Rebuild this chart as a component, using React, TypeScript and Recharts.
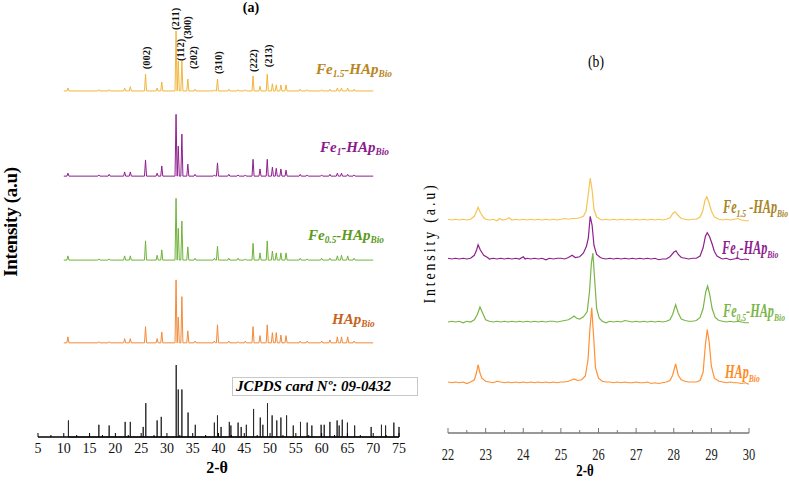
import React from "react";
import { ComposedChart, LineChart, Line, XAxis, YAxis } from "recharts";

// ---------- (a) full 2θ range, 5–75° ----------
const peakTheta = [
  10.8, 16.8, 18.8, 21.8, 22.9, 25.85, 28.1, 29.0, 31.77, 32.2, 32.9, 34.05, 35.45, 39.2, 39.8, 42.0, 43.8,
  45.2, 46.7, 48.05, 49.45, 50.45, 51.2, 52.1, 53.1, 55.85, 57.2, 60.0, 61.6, 63.05, 63.85, 65.05, 66.3,
];
// relative peak heights (211 ≈ 100) per sample, same order as peakTheta
const hapPeaks = [10, 2, 2, 7, 7, 27, 7, 18, 105, 43, 77, 20, 3, 3, 30, 3, 2, 3, 27, 12, 30, 17, 17, 13, 12, 3, 3, 3, 5, 10, 10, 10, 3];
const fe05Peaks = [7, 2, 2, 7, 7, 32, 8, 17, 103, 53, 65, 22, 3, 3, 23, 3, 3, 2, 28, 12, 32, 15, 12, 12, 12, 3, 2, 3, 3, 7, 8, 7, 3];
const fe1Peaks = [5, 2, 3, 7, 7, 27, 5, 17, 103, 50, 70, 20, 3, 2, 22, 3, 2, 2, 28, 12, 28, 15, 13, 12, 10, 3, 2, 2, 3, 5, 5, 3, 2];
const fe15Peaks = [5, 2, 2, 5, 7, 28, 5, 15, 100, 50, 50, 20, 3, 2, 20, 3, 2, 2, 25, 8, 28, 12, 10, 10, 10, 3, 2, 2, 3, 5, 5, 5, 3];

// JCPDS 09-0432 reference lines
const jcpdsTheta = [
  10.9, 16.8, 18.8, 21.9, 22.9, 25.4, 25.9, 28.1, 28.9, 31.8, 32.2, 32.9, 34.1, 35.5, 39.2, 39.8, 40.5, 42.1,
  42.4, 43.8, 44.4, 45.4, 46.8, 48.1, 48.6, 49.5, 50.4, 51.3, 52.1, 53.2, 54.5, 55.9, 57.2, 58.1, 59.9, 60.5,
  61.6, 63.0, 63.4, 64.0, 65.0, 66.4, 69.6, 71.6, 72.4, 74.0, 75.0,
];
const jcpdsIntensity = [
  23, 17, 16, 21, 21, 14, 47, 23, 28, 100, 66, 66, 34, 17, 20, 30, 14, 21, 16, 20, 14, 17, 39, 27, 17, 47, 30,
  23, 27, 30, 16, 21, 20, 16, 17, 17, 21, 23, 16, 24, 20, 16, 14, 17, 16, 20, 14,
];

const hklTags = ["(002)", "(211)", "(112)", "(300)", "(202)", "(310)", "(222)", "(213)"];
const hklTheta = [25.85, 31.77, 32.2, 32.9, 34.05, 39.8, 46.7, 49.45];

const ticksA = [
  5, 7.5, 10, 12.5, 15, 17.5, 20, 22.5, 25, 27.5, 30, 32.5, 35, 37.5, 40, 42.5, 45, 47.5, 50, 52.5, 55, 57.5,
  60, 62.5, 65, 67.5, 70, 72.5, 75,
];

// ---------- (b) close-up, 22–30° ----------
const hapZoom: [number, number][] = [
  [22, 1], [22.1, 0], [22.2, 1], [22.3, 0], [22.4, 1], [22.5, -1], [22.6, 1], [22.7, 4], [22.75, 12], [22.8, 24],
  [22.85, 13], [22.9, 6], [23.0, 2], [23.1, 1], [23.2, 0], [23.3, 2], [23.4, 1], [23.5, 0], [23.6, 1], [23.7, 0],
  [23.8, 1], [23.9, 0], [24.0, 1], [24.1, 0], [24.2, 1], [24.3, 0], [24.4, 1], [24.5, 0], [24.6, 1], [24.7, 0],
  [24.8, 1], [24.9, 0], [25.0, 1], [25.1, 1], [25.2, 2], [25.3, 4], [25.35, 5], [25.45, 3], [25.55, 4], [25.65, 9],
  [25.72, 30], [25.77, 70], [25.82, 100], [25.87, 62], [25.92, 20], [26.0, 6], [26.1, 2], [26.2, 1], [26.3, 1],
  [26.4, 0], [26.5, 1], [26.6, 0], [26.7, 1], [26.8, 0], [26.9, 0], [27.0, 1], [27.1, 0], [27.2, 0], [27.3, 1],
  [27.4, -1], [27.5, 0], [27.6, -1], [27.7, 0], [27.8, 1], [27.9, 3], [27.97, 10], [28.05, 25], [28.12, 10],
  [28.2, 4], [28.3, 2], [28.4, 1], [28.5, 1], [28.6, 1], [28.7, 3], [28.78, 14], [28.84, 50], [28.89, 71],
  [28.94, 55], [29.0, 22], [29.08, 6], [29.2, 2], [29.3, 1], [29.4, 0], [29.5, 1], [29.6, 0], [29.7, 0],
  [29.8, -1], [29.9, 0], [30.0, -2],
];
const fe05Zoom: [number, number][] = [
  [22, 0], [22.1, 1], [22.2, 0], [22.3, 1], [22.4, -1], [22.5, 1], [22.6, 0], [22.7, 3], [22.78, 10], [22.85, 20],
  [22.92, 12], [23.0, 3], [23.1, 1], [23.2, 0], [23.3, 1], [23.4, 0], [23.5, 1], [23.6, 0], [23.7, 1], [23.8, 0],
  [23.9, 1], [24.0, 0], [24.1, 1], [24.2, 0], [24.3, 1], [24.4, 0], [24.5, 1], [24.6, 0], [24.7, 1], [24.8, 1],
  [24.9, 0], [25.0, 1], [25.1, 2], [25.2, 3], [25.3, 6], [25.35, 8], [25.42, 5], [25.5, 4], [25.6, 7], [25.7, 14],
  [25.76, 40], [25.81, 78], [25.85, 92], [25.9, 55], [25.95, 18], [26.02, 5], [26.1, 1], [26.2, -1], [26.3, 1],
  [26.4, 0], [26.5, 1], [26.6, 0], [26.7, 2], [26.8, 1], [26.9, 0], [27.0, 1], [27.1, 0], [27.2, 1], [27.3, 0],
  [27.4, 1], [27.5, 0], [27.6, 1], [27.7, 0], [27.8, 1], [27.9, 3], [27.97, 10], [28.05, 23], [28.12, 12],
  [28.2, 4], [28.3, 2], [28.4, 1], [28.5, 1], [28.6, 2], [28.7, 6], [28.78, 18], [28.85, 40], [28.9, 48],
  [28.95, 38], [29.02, 18], [29.1, 6], [29.2, 2], [29.3, 1], [29.4, 0], [29.5, 1], [29.6, 0], [29.7, 1],
  [29.8, 0], [29.9, -1], [30.0, -1],
];
const fe1Zoom: [number, number][] = [
  [22, 1], [22.1, 0], [22.2, 1], [22.3, 0], [22.4, 1], [22.5, 0], [22.6, 1], [22.7, 5], [22.76, 12], [22.8, 19],
  [22.86, 12], [22.95, 5], [23.05, 2], [23.1, 0], [23.2, 1], [23.3, 0], [23.4, 1], [23.5, 0], [23.6, 1], [23.7, 0],
  [23.8, 1], [23.9, 0], [24.0, 3], [24.05, 0], [24.1, 1], [24.2, 0], [24.3, 1], [24.4, 0], [24.5, 1], [24.6, -1],
  [24.7, 1], [24.8, 0], [24.9, 1], [25.0, 1], [25.1, 0], [25.2, 2], [25.3, 5], [25.38, 2], [25.5, 3], [25.6, 8],
  [25.68, 17], [25.73, 28], [25.78, 57], [25.83, 45], [25.88, 18], [25.95, 6], [26.05, 2], [26.1, 1], [26.2, 0],
  [26.3, 1], [26.4, 0], [26.5, 1], [26.6, 0], [26.7, 1], [26.8, 0], [26.9, 1], [27.0, 0], [27.1, 1], [27.2, 0],
  [27.3, 1], [27.4, 0], [27.5, 1], [27.6, -1], [27.7, 0], [27.8, 0], [27.9, 3], [28.0, 9], [28.06, 11],
  [28.12, 6], [28.2, 2], [28.3, 1], [28.4, 0], [28.5, 1], [28.6, 1], [28.7, 4], [28.78, 15], [28.84, 30],
  [28.89, 35], [28.95, 30], [29.02, 20], [29.08, 10], [29.15, 4], [29.25, 1], [29.3, 0], [29.4, 1], [29.5, -1],
  [29.6, 0], [29.7, 1], [29.8, -1], [29.9, 0], [30.0, -1],
];
const fe15Zoom: [number, number][] = [
  [22, 1], [22.1, 0], [22.2, 1], [22.3, 0], [22.4, 1], [22.5, 0], [22.6, 1], [22.7, 5], [22.76, 12], [22.8, 17],
  [22.86, 10], [22.95, 3], [23.0, 1], [23.1, 0], [23.2, 1], [23.3, -1], [23.37, 2], [23.45, 0], [23.55, 1],
  [23.62, 3], [23.7, 0], [23.8, 1], [23.9, 0], [24.0, 1], [24.1, 0], [24.2, 1], [24.3, 0], [24.4, 1], [24.5, 0],
  [24.6, 1], [24.7, 0], [24.8, 1], [24.9, 0], [25.0, 1], [25.1, 2], [25.2, 1], [25.3, 2], [25.4, 2], [25.5, 3],
  [25.6, 5], [25.67, 12], [25.73, 35], [25.78, 56], [25.83, 40], [25.88, 14], [25.95, 4], [26.05, 1], [26.1, 0],
  [26.2, 1], [26.3, 0], [26.4, 1], [26.5, 0], [26.6, 1], [26.7, 0], [26.8, 1], [26.9, 0], [27.0, 1], [27.1, 0],
  [27.2, 1], [27.3, 0], [27.4, 1], [27.5, 0], [27.6, 1], [27.7, 0], [27.8, 1], [27.9, 3], [27.98, 9], [28.04, 11],
  [28.1, 7], [28.2, 2], [28.3, 1], [28.4, 0], [28.5, 1], [28.6, 1], [28.7, 4], [28.77, 12], [28.83, 26],
  [28.88, 31], [28.93, 24], [29.0, 12], [29.08, 4], [29.2, 1], [29.3, 0], [29.4, 1], [29.5, 0], [29.6, 1],
  [29.7, 2], [29.8, 0], [29.9, -1], [30.0, -1],
];

const ticksB = [22, 22.5, 23, 23.5, 24, 24.5, 25, 25.5, 26, 26.5, 27, 27.5, 28, 28.5, 29, 29.5, 30];

// stacking offsets (y-axis units) for the waterfall layout
const OFFSET_A = { hap: 157, fe05: 295, fe1: 435, fe15: 577 };
const OFFSET_B = { hap: 67, fe05: 148, fe1: 232, fe15: 284 };
const JCPDS_SCALE = 1.2;

const SERIF = "'Liberation Serif', 'Times New Roman', serif";

const spikes = (heights: number[], offset: number) => {
  const pts = [{ x: 10, y: offset }];
  peakTheta.forEach((t, i) => {
    pts.push({ x: t - 0.2, y: offset }, { x: t, y: offset + heights[i] }, { x: t + 0.2, y: offset });
  });
  pts.push({ x: 70, y: offset });
  return pts;
};

const sticks = jcpdsTheta.flatMap((t, i) => [
  { x: t, y: 0 },
  { x: t, y: jcpdsIntensity[i] * JCPDS_SCALE },
  { x: t, y: 0 },
]);

const hklPoints = hklTags.map((tag, i) => {
  const k = peakTheta.indexOf(hklTheta[i]);
  return { hkl: tag, x: hklTheta[i], y: OFFSET_A.fe15 + fe15Peaks[k] };
});

// lift above the peak top (px) and sideways nudge for each Miller index
const hklPlace: Record<string, { gap: number; dx: number }> = {
  "(002)": { gap: 5, dx: 1 },
  "(211)": { gap: 1, dx: -1 },
  "(112)": { gap: 0, dx: 2 },
  "(300)": { gap: 22, dx: 6 },
  "(202)": { gap: 10, dx: 6 },
  "(310)": { gap: 5, dx: 1 },
  "(222)": { gap: 4, dx: 0 },
  "(213)": { gap: 7, dx: 1 },
};

const toPoints = (rows: [number, number][], offset: number) => rows.map(([x, y]) => ({ x, y: y + offset }));

const TickA = ({ x, y, payload }: any) => {
  const major = payload.value % 5 === 0;
  return (
    <g>
      <line x1={x} x2={x} y1={y} y2={y - (major ? 4 : 2)} stroke="#000" strokeWidth={1} />
      {major && (
        <text x={x} y={y + 16} textAnchor="middle" fontSize={14} fontFamily={SERIF} fill="#111">
          {payload.value}
        </text>
      )}
    </g>
  );
};

const TickB = ({ x, y, payload }: any) => {
  const major = Number.isInteger(payload.value);
  return (
    <g>
      <line x1={x} x2={x} y1={y} y2={y - (major ? 5 : 3)} stroke="#777" strokeWidth={1} />
      {major && (
        <text
          transform={`translate(${x},${y + 27}) scale(0.78,1)`}
          textAnchor="middle"
          fontSize={16}
          fontFamily={SERIF}
          fill="#222"
        >
          {payload.value}
        </text>
      )}
    </g>
  );
};

const HklLabel = (p: any) => {
  const place = hklPlace[p.payload.hkl];
  return (
    <text
      key={p.payload.hkl}
      transform={`translate(${p.cx + place.dx},${p.cy - place.gap}) rotate(-90)`}
      dominantBaseline="central"
      fontSize={10.5}
      fontWeight="bold"
      fontFamily={SERIF}
      fill="#111"
    >
      {p.payload.hkl}
    </text>
  );
};

type SampleProps = {
  dose: string | null;
  color: string;
  left: number;
  top: number;
  size: number;
  squeeze?: number;
  gap?: string;
};

const subStyle: React.CSSProperties = { fontSize: "0.62em", verticalAlign: "-0.32em", lineHeight: 0 };

function SampleName({ dose, color, left, top, size, squeeze = 1, gap = "" }: SampleProps) {
  return (
    <div
      style={{
        position: "absolute",
        left,
        top,
        color,
        fontSize: size,
        fontWeight: "bold",
        fontStyle: "italic",
        fontFamily: SERIF,
        whiteSpace: "nowrap",
        lineHeight: 1,
        transform: `scaleX(${squeeze})`,
        transformOrigin: "left top",
      }}
    >
      {dose !== null && (
        <>
          Fe<sub style={subStyle}>{dose}</sub>
          {gap}-
        </>
      )}
      HAp<sub style={subStyle}>Bio</sub>
    </div>
  );
}

export default function App() {
  return (
    <div
      style={{
        position: "absolute",
        left: 0,
        top: 0,
        width: 789,
        height: 482,
        background: "#fff",
        overflow: "hidden",
        fontFamily: SERIF,
      }}
    >
      {/* panel (a) */}
      <div style={{ position: "absolute", left: 0, top: 0 }}>
        <ComposedChart width={420} height={482} margin={{ top: 22, right: 21, bottom: 0, left: 38 }}>
          <XAxis
            type="number"
            dataKey="x"
            domain={[5, 75]}
            ticks={ticksA}
            interval={0}
            height={45}
            tickSize={0}
            tickMargin={0}
            tickLine={false}
            tick={<TickA />}
            axisLine={{ stroke: "#000", strokeWidth: 1.5 }}
          />
          <YAxis
            type="number"
            domain={[0, 692]}
            width={0}
            tick={false}
            tickLine={false}
            axisLine={{ stroke: "#000", strokeWidth: 1.5 }}
          />
          <Line data={sticks} dataKey="y" stroke="#2a2a2a" strokeWidth={1} dot={false} isAnimationActive={false} />
          <Line data={spikes(hapPeaks, OFFSET_A.hap)} dataKey="y" stroke="#F28A3A" strokeWidth={1} dot={false} isAnimationActive={false} />
          <Line data={spikes(fe05Peaks, OFFSET_A.fe05)} dataKey="y" stroke="#6FB33A" strokeWidth={1} dot={false} isAnimationActive={false} />
          <Line data={spikes(fe1Peaks, OFFSET_A.fe1)} dataKey="y" stroke="#8E1F8E" strokeWidth={1} dot={false} isAnimationActive={false} />
          <Line data={spikes(fe15Peaks, OFFSET_A.fe15)} dataKey="y" stroke="#F2B53C" strokeWidth={1} dot={false} isAnimationActive={false} />
          <Line data={hklPoints} dataKey="y" stroke="none" dot={HklLabel} activeDot={false} isAnimationActive={false} />
        </ComposedChart>
      </div>

      <div style={{ position: "absolute", left: 251, top: 0, transform: "translateX(-50%)", fontSize: 14, fontWeight: "bold" }}>
        (a)
      </div>
      <div
        style={{
          position: "absolute",
          left: 11,
          top: 222,
          transform: "translate(-50%, -50%) rotate(-90deg)",
          fontSize: 19,
          fontWeight: "bold",
          letterSpacing: -0.3,
          whiteSpace: "nowrap",
        }}
      >
        Intensity (a.u)
      </div>
      <div style={{ position: "absolute", left: 217, top: 459, transform: "translateX(-50%)", fontSize: 16, fontWeight: "bold" }}>
        2-θ
      </div>
      <div
        style={{
          position: "absolute",
          left: 232,
          top: 377,
          width: 181,
          height: 17,
          border: "1px solid #c8c8c8",
          fontSize: 15,
          fontWeight: "bold",
          fontStyle: "italic",
          lineHeight: "17px",
          paddingLeft: 3,
          whiteSpace: "nowrap",
          boxSizing: "content-box",
        }}
      >
        JCPDS card Nº: 09-0432
      </div>

      <SampleName dose="1.5" color="#B8861B" left={316} top={62} size={15} />
      <SampleName dose="1" color="#8B1A8B" left={320} top={140} size={15} />
      <SampleName dose="0.5" color="#5C9A20" left={308} top={228} size={15} />
      <SampleName dose={null} color="#C8621A" left={332} top={312} size={15} />

      {/* panel (b) */}
      <div style={{ position: "absolute", left: 420, top: 0 }}>
        <LineChart width={369} height={482} margin={{ top: 40, right: 40, bottom: 0, left: 28 }}>
          <XAxis
            type="number"
            dataKey="x"
            domain={[22, 30]}
            ticks={ticksB}
            interval={0}
            height={49}
            tickSize={0}
            tickMargin={0}
            tickLine={false}
            tick={<TickB />}
            axisLine={{ stroke: "#777", strokeWidth: 1.5 }}
          />
          <YAxis
            type="number"
            domain={[0, 524]}
            width={0}
            tick={false}
            tickLine={false}
            axisLine={{ stroke: "#777", strokeWidth: 1.5 }}
          />
          <Line data={toPoints(hapZoom, OFFSET_B.hap)} dataKey="y" stroke="#FF9033" strokeWidth={1.2} dot={false} isAnimationActive={false} />
          <Line data={toPoints(fe05Zoom, OFFSET_B.fe05)} dataKey="y" stroke="#7BB547" strokeWidth={1.2} dot={false} isAnimationActive={false} />
          <Line data={toPoints(fe1Zoom, OFFSET_B.fe1)} dataKey="y" stroke="#8E1F8E" strokeWidth={1.2} dot={false} isAnimationActive={false} />
          <Line data={toPoints(fe15Zoom, OFFSET_B.fe15)} dataKey="y" stroke="#F6C453" strokeWidth={1.2} dot={false} isAnimationActive={false} />
        </LineChart>
      </div>

      <div style={{ position: "absolute", left: 596, top: 52, transform: "translateX(-50%) scaleX(0.8)", fontSize: 17 }}>
        (b)
      </div>
      <div
        style={{
          position: "absolute",
          left: 430,
          top: 243,
          transform: "translate(-50%, -50%) rotate(-90deg) scale(0.82, 1)",
          fontSize: 17,
          letterSpacing: 3.5,
          whiteSpace: "nowrap",
        }}
      >
        Intensity (a.u)
      </div>
      <div
        style={{
          position: "absolute",
          left: 585,
          top: 462,
          transform: "translateX(-50%) scaleX(0.8)",
          fontSize: 16,
          fontWeight: "bold",
        }}
      >
        2-θ
      </div>

      <SampleName dose="1.5" gap=" " color="#A88423" left={723} top={198} size={18} squeeze={0.68} />
      <SampleName dose="1" color="#8E1C8E" left={722} top={239} size={18} squeeze={0.68} />
      <SampleName dose="0.5" color="#7AB648" left={723} top={302} size={18} squeeze={0.68} />
      <SampleName dose={null} color="#FF8A1E" left={725} top={363} size={18} squeeze={0.68} />
    </div>
  );
}
